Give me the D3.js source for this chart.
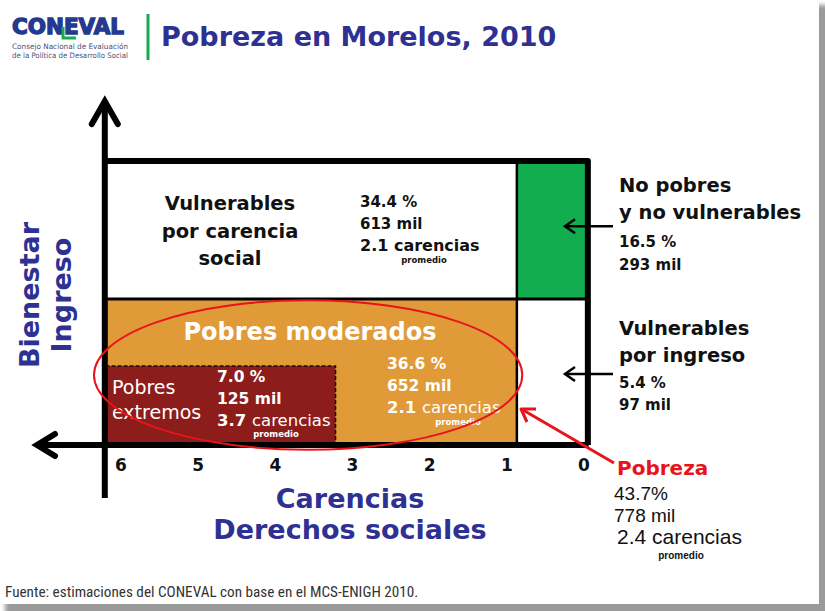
<!DOCTYPE html>
<html>
<head>
<meta charset="utf-8">
<script src="https://cdn.jsdelivr.net/npm/d3@7"></script>
<style>
  body { margin: 0; background: #fff; }
  svg { display: block; }
  text { font-family: "DejaVu Sans", sans-serif; }
</style>
</head>
<body>
<div id="graphic"></div>
<script>
// carencias (eje x, de 6 a 0) y bienestar/ingreso (eje y)
const carenciaTicks = [6, 5, 4, 3, 2, 1, 0];

// grupos de poblacion
const grupos = ['Vulnerables por carencia social', 'No pobres y no vulnerables', 'Pobres moderados', 'Vulnerables por ingreso', 'Pobres extremos'];
const porcentajes = [34.4, 16.5, 36.6, 5.4, 7.0];
const milesPersonas = [613, 293, 652, 97, 125];
const carenciasPromedio = [2.1, null, 2.1, null, 3.7];

// limites de cada grupo en unidades de carencias y de bienestar (0 = sin ingreso, 1 = tope)
const carenciaDesde = [6.2, 0.87, 6.2, 0.87, 6.2];
const carenciaHasta = [0.87, -0.05, 0.87, -0.05, 3.22];
const bienestarDesde = [0.514, 0.514, 0, 0, 0];
const bienestarHasta = [1, 1, 0.514, 0.514, 0.278];

// total en pobreza
const pobrezaPct = 43.7;
const pobrezaMil = 778;
const pobrezaCarencias = 2.4;

const azul = '#2e3192';
const rojo = '#e8141c';
const colores = ['#ffffff', '#12ad4f', '#e09a37', '#ffffff', '#8c1d1a'];

const width = 825, height = 611;

const svg = d3.select('#graphic')
	.append('svg')
	.attr('width', width)
	.attr('height', height);

// marco de la diapositiva con sombra
const defs = svg.append('defs');
defs.append('filter').attr('id', 'blur')
	.append('feGaussianBlur').attr('stdDeviation', 2);
svg.append('rect')
	.attr('x', 5).attr('y', 5).attr('width', width).attr('height', height)
	.attr('fill', '#9a9a9a').attr('filter', 'url(#blur)');
svg.append('rect')
	.attr('width', 819).attr('height', 604).attr('fill', '#fff');

// logo
const logo = svg.append('g');
logo.append('text')
	.attr('x', 12).attr('y', 34)
	.attr('textLength', 112).attr('lengthAdjust', 'spacingAndGlyphs')
	.style('font-size', '21px').style('font-weight', 'bold')
	.attr('fill', '#24398f').attr('stroke', '#24398f').attr('stroke-width', 1.4)
	.text('CONEVAL');
logo.append('path')
	.attr('d', 'M63,27 V38 H76')
	.attr('fill', 'none').attr('stroke', '#12ad4f').attr('stroke-width', 3);
logo.selectAll('text.sub')
	.data(['Consejo Nacional de Evaluación', 'de la Política de Desarrollo Social'])
	.join('text')
	.attr('class', 'sub')
	.attr('x', 12).attr('y', (d, i) => 49 + i * 8.5)
	.attr('textLength', 116).attr('lengthAdjust', 'spacingAndGlyphs')
	.style('font-size', '7.5px')
	.attr('fill', '#4b4f7a')
	.text(d => d);

svg.append('rect')
	.attr('x', 146.5).attr('y', 14).attr('width', 3).attr('height', 46)
	.attr('fill', '#12ad4f');

svg.append('text')
	.attr('x', 161).attr('y', 46)
	.style('font-size', '27px').style('font-weight', 'bold')
	.attr('fill', azul)
	.text('Pobreza en Morelos, 2010');

// escalas
const x = d3.scaleLinear().domain([6, 0]).range([121, 584]);
const y = d3.scaleLinear().domain([0, 1]).range([445, 161]);

const chart = svg.append('g');

// rectangulos de cada grupo
chart.append('g')
	.selectAll('rect')
	.data(grupos)
	.join('rect')
	.attr('x', (d, i) => x(carenciaDesde[i]))
	.attr('y', (d, i) => y(bienestarHasta[i]))
	.attr('width', (d, i) => x(carenciaHasta[i]) - x(carenciaDesde[i]))
	.attr('height', (d, i) => y(bienestarDesde[i]) - y(bienestarHasta[i]))
	.attr('fill', (d, i) => colores[i]);

// borde punteado de pobres extremos
const ex = 4;
chart.append('path')
	.attr('d', `M${x(carenciaDesde[ex])},${y(bienestarHasta[ex])} H${x(carenciaHasta[ex])} V${y(0)}`)
	.attr('fill', 'none').attr('stroke', '#111')
	.attr('stroke-width', 1.5).attr('stroke-dasharray', '4,2');

// divisiones internas
chart.append('line')
	.attr('x1', x(6.2)).attr('x2', x(-0.05))
	.attr('y1', y(0.514)).attr('y2', y(0.514))
	.attr('stroke', '#000').attr('stroke-width', 3);
chart.append('line')
	.attr('x1', x(0.87)).attr('x2', x(0.87))
	.attr('y1', y(1)).attr('y2', y(0))
	.attr('stroke', '#000').attr('stroke-width', 2.5);

// marco superior y derecho
chart.append('path')
	.attr('d', `M${x(6.2)},${y(1)} H${x(-0.05)} V${y(0)}`)
	.attr('fill', 'none').attr('stroke', '#000')
	.attr('stroke-width', 6).attr('stroke-linejoin', 'round');

// ejes con flechas
const ejeX = x(6.21), ejeY = y(0);
chart.append('line')
	.attr('x1', ejeX).attr('x2', ejeX)
	.attr('y1', y(1.2)).attr('y2', 498)
	.attr('stroke', '#000').attr('stroke-width', 6);
chart.append('path')
	.attr('d', `M${ejeX - 13},${y(1.13)} L${ejeX},${y(1.21)} L${ejeX + 13},${y(1.13)}`)
	.attr('fill', 'none').attr('stroke', '#000').attr('stroke-width', 6)
	.attr('stroke-linecap', 'round').attr('stroke-linejoin', 'miter');
chart.append('line')
	.attr('x1', 38).attr('x2', x(-0.06))
	.attr('y1', ejeY).attr('y2', ejeY)
	.attr('stroke', '#000').attr('stroke-width', 6);
chart.append('path')
	.attr('d', `M55,${ejeY - 11} L37,${ejeY} L55,${ejeY + 11}`)
	.attr('fill', 'none').attr('stroke', '#000').attr('stroke-width', 6)
	.attr('stroke-linecap', 'round');

// etiquetas del eje x
chart.append('g')
	.selectAll('text')
	.data(carenciaTicks)
	.join('text')
	.attr('x', d => x(d))
	.attr('y', 471)
	.attr('text-anchor', 'middle')
	.style('font-size', '17px').style('font-weight', 'bold')
	.attr('fill', '#111')
	.text(d => d);

// titulos de ejes
chart.append('g')
	.selectAll('text')
	.data(['Carencias', 'Derechos sociales'])
	.join('text')
	.attr('x', 350).attr('y', (d, i) => 508 + i * 31)
	.attr('text-anchor', 'middle')
	.style('font-size', '27px').style('font-weight', 'bold')
	.attr('fill', azul)
	.text(d => d);

chart.append('g')
	.selectAll('text')
	.data(['Bienestar', 'Ingreso'])
	.join('text')
	.attr('transform', (d, i) => `translate(${39 + i * 32},295) rotate(-90)`)
	.attr('text-anchor', 'middle')
	.style('font-size', '27px').style('font-weight', 'bold')
	.attr('fill', azul)
	.text(d => d);

// textos dentro de las cajas
function bloque(g, x0, y0, lineas) {
	lineas.forEach(l => {
		g.append('text')
			.attr('x', l.dx !== undefined ? x0 + l.dx : x0)
			.attr('y', y0 + l.dy)
			.attr('text-anchor', l.anchor || 'start')
			.style('font-size', l.size + 'px')
			.style('font-weight', l.weight || 'bold')
			.attr('fill', l.color)
			.text(l.text);
	});
}

function carTexto(g, x0, y0, val, color, size) {
	const t = g.append('text')
		.attr('x', x0).attr('y', y0)
		.style('font-size', size + 'px')
		.attr('fill', color);
	t.append('tspan').style('font-weight', 'bold').text(d3.format('.1f')(val) + ' ');
	t.append('tspan').style('font-weight', color === '#fff' ? 'normal' : 'bold').text('carencias');
}

const txt = chart.append('g');
const fmtPct = d3.format('.1f');

// vulnerables por carencia social
bloque(txt, 230, 0, [
	{ text: 'Vulnerables', dy: 210, size: 19.5, anchor: 'middle', color: '#111' },
	{ text: 'por carencia', dy: 238, size: 19.5, anchor: 'middle', color: '#111' },
	{ text: 'social', dy: 265, size: 19.5, anchor: 'middle', color: '#111' }
]);
bloque(txt, 360, 0, [
	{ text: fmtPct(porcentajes[0]) + ' %', dy: 207, size: 15, color: '#111' },
	{ text: milesPersonas[0] + ' mil', dy: 229, size: 15, color: '#111' }
]);
carTexto(txt, 360, 251, carenciasPromedio[0], '#111', 16);
bloque(txt, 424, 0, [{ text: 'promedio', dy: 263, size: 8.5, anchor: 'middle', color: '#111' }]);

// pobres moderados
bloque(txt, 310, 0, [
	{ text: grupos[2], dy: 340, size: 24, anchor: 'middle', color: '#fff' }
]);
bloque(txt, 387, 0, [
	{ text: fmtPct(porcentajes[2]) + ' %', dy: 369, size: 15.5, color: '#fff' },
	{ text: milesPersonas[2] + ' mil', dy: 391, size: 15.5, color: '#fff' }
]);
carTexto(txt, 387, 413, carenciasPromedio[2], '#fff', 16.5);
bloque(txt, 458, 0, [{ text: 'promedio', dy: 425, size: 8.5, anchor: 'middle', color: '#fff' }]);

// pobres extremos
bloque(txt, 112, 0, [
	{ text: 'Pobres', dy: 394, size: 19, weight: 'normal', color: '#fff' },
	{ text: 'extremos', dy: 419, size: 19, weight: 'normal', color: '#fff' }
]);
bloque(txt, 217, 0, [
	{ text: fmtPct(porcentajes[4]) + ' %', dy: 382, size: 15.5, color: '#fff' },
	{ text: milesPersonas[4] + ' mil', dy: 404, size: 15.5, color: '#fff' }
]);
carTexto(txt, 217, 426, carenciasPromedio[4], '#fff', 16.5);
bloque(txt, 276, 0, [{ text: 'promedio', dy: 437, size: 8.5, anchor: 'middle', color: '#fff' }]);

// elipse de pobreza
chart.append('ellipse')
	.attr('cx', (x(6.35) + x(0.8)) / 2)
	.attr('cy', (y(0.51) + y(-0.01)) / 2 + 1)
	.attr('rx', (x(0.8) - x(6.35)) / 2)
	.attr('ry', (y(-0.01) - y(0.51)) / 2 + 1)
	.attr('fill', 'none').attr('stroke', rojo).attr('stroke-width', 2);

// flechas de la derecha
const derecha = chart.append('g');
[0.77, 0.25].forEach(v => {
	derecha.append('line')
		.attr('x1', 613).attr('x2', 565)
		.attr('y1', y(v)).attr('y2', y(v))
		.attr('stroke', '#000').attr('stroke-width', 2.5);
	derecha.append('path')
		.attr('d', `M575,${y(v) - 7} L565,${y(v)} L575,${y(v) + 7}`)
		.attr('fill', 'none').attr('stroke', '#000').attr('stroke-width', 2.5);
});

bloque(derecha, 619, 0, [
	{ text: 'No pobres', dy: 192, size: 19.5, color: '#111' },
	{ text: 'y no vulnerables', dy: 219, size: 19.5, color: '#111' },
	{ text: fmtPct(porcentajes[1]) + ' %', dy: 247, size: 15, color: '#111' },
	{ text: milesPersonas[1] + ' mil', dy: 270, size: 15, color: '#111' },
	{ text: 'Vulnerables', dy: 335, size: 19.5, color: '#111' },
	{ text: 'por ingreso', dy: 362, size: 19.5, color: '#111' },
	{ text: fmtPct(porcentajes[3]) + ' %', dy: 388, size: 15, color: '#111' },
	{ text: milesPersonas[3] + ' mil', dy: 410, size: 15, color: '#111' }
]);

// pobreza total
chart.append('line')
	.attr('x1', 614).attr('y1', 463).attr('x2', 523).attr('y2', 410)
	.attr('stroke', rojo).attr('stroke-width', 3);
chart.append('path')
	.attr('d', 'M536,409 L521,409 L527,422')
	.attr('fill', 'none').attr('stroke', rojo).attr('stroke-width', 3)
	.attr('stroke-linejoin', 'round');

chart.append('text')
	.attr('x', 617).attr('y', 475)
	.style('font-size', '20px').style('font-weight', 'bold')
	.attr('fill', rojo)
	.text('Pobreza');

const sans = '"Liberation Sans", Arial, sans-serif';
const condensada = '"Roboto Condensed", "Liberation Sans Narrow", "Liberation Sans", sans-serif';
chart.append('g')
	.selectAll('text')
	.data([fmtPct(pobrezaPct) + '%', pobrezaMil + ' mil', pobrezaCarencias.toFixed(1) + ' carencias'])
	.join('text')
	.attr('x', (d, i) => i === 2 ? 617 : 614)
	.attr('y', (d, i) => 500 + i * 22)
	.style('font-family', sans)
	.style('font-size', (d, i) => i === 2 ? '21px' : '19px')
	.attr('fill', '#111')
	.text(d => d);
chart.append('text')
	.attr('x', 681).attr('y', 559)
	.attr('text-anchor', 'middle')
	.style('font-family', sans)
	.style('font-size', '10px').style('font-weight', 'bold')
	.attr('fill', '#111')
	.text('promedio');

// fuente
svg.append('text')
	.attr('x', 5).attr('y', 597)
	.style('font-family', condensada)
	.style('font-size', '15.2px')
	.attr('fill', '#333')
	.text('Fuente: estimaciones del CONEVAL con base en el MCS-ENIGH 2010.');
</script>
</body>
</html>
